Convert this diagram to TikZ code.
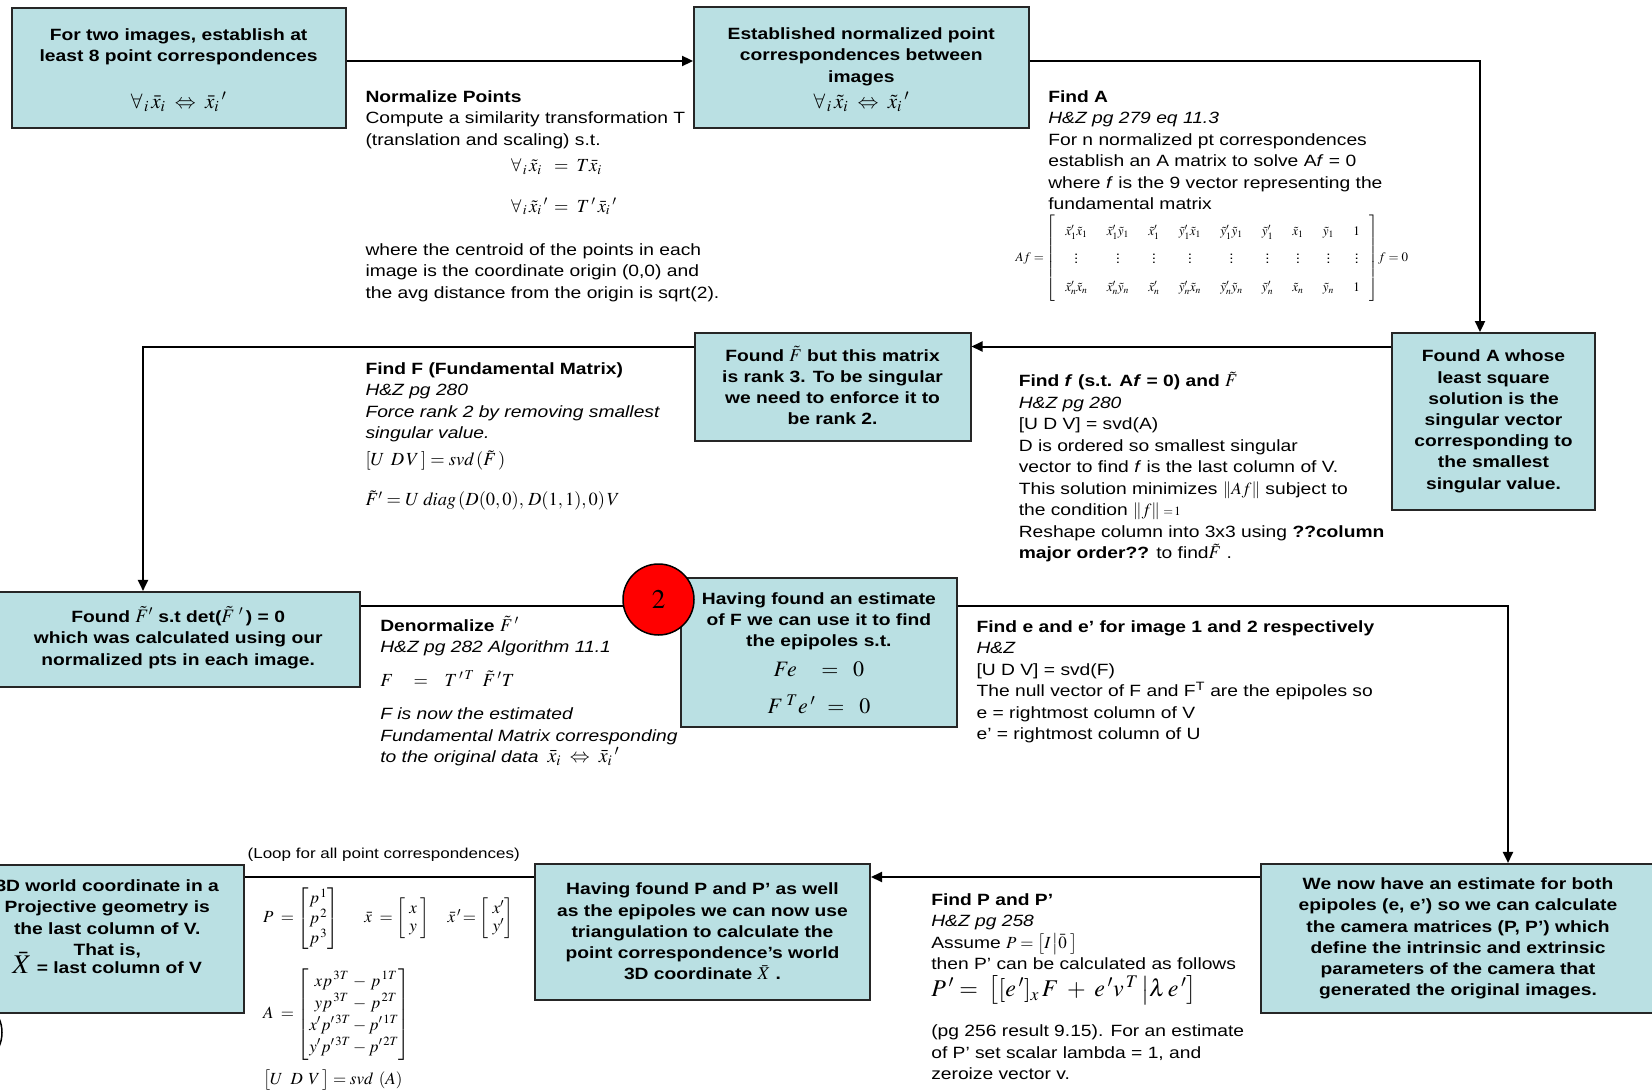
\documentclass[tikz,border=0pt]{standalone}
\usepackage{amsmath}
\usepackage{mathptmx}
\usepackage{fontspec}
\setmainfont{Liberation Sans}[FakeStretch=1.18]
\usetikzlibrary{arrows.meta}
\usetikzlibrary{positioning}
\definecolor{boxTeal}{RGB}{186,224,227}
\newcommand{\tikzNoteFont}{\fontsize{16.3}{21.5}\selectfont}
\newcommand{\tikzBoxFont}{\fontsize{16.3}{21.2}\selectfont\bfseries}
\newcommand{\tikzBigMath}[2]{{\fontsize{#1}{#1}\selectfont\smash{$#2$}}}

\begin{document}
\begin{tikzpicture}[x=1pt,y=-1pt,line width=2pt,
    >={Triangle[length=11pt,width=10pt]},
    flowBox/.style={draw=black!85,fill=boxTeal,inner sep=0pt,align=center,font=\tikzBoxFont},
    noteText/.style={anchor=north west,inner sep=0pt,align=left,font=\tikzNoteFont},
    eqText/.style={anchor=west,inner sep=0pt,font=\fontsize{18.5}{21}\selectfont}]
                        \useasboundingbox (0,0) rectangle (1652,1091);
                        % boxes of the flow
                        \node[flowBox,minimum width=334pt,minimum height=120pt] (pointPairs) at (178.6,68.5)
                            {For two images, establish at\\least 8 point correspondences\\[26pt]\tikzBigMath{21}{\forall_{\,i}\,\bar{x}_i\;\Leftrightarrow\;\bar{x}_i\,'}};
                        \node[flowBox,minimum width=334.5pt,minimum height=121pt] (normPairs) at (861.3,68)
                            {Established normalized point\\correspondences between\\images\\[5pt]\tikzBigMath{21}{\forall_{\,i}\,\tilde{x}_i\;\Leftrightarrow\;\tilde{x}_i\,'}};
                        \node[flowBox,minimum width=203pt,minimum height=176.5pt] (foundA) at (1493.5,421.3)
                            {Found A whose\\least square\\solution is the\\singular vector\\corresponding to\\the smallest\\singular value.};
                        \node[flowBox,minimum width=276pt,minimum height=108pt] (foundFt) at (832.5,387)
                            {Found \tikzBigMath{18}{\tilde{F}} but this matrix\\is rank 3. To be singular\\we need to enforce it to\\be rank 2.};
                        \node[flowBox,minimum width=364.5pt,minimum height=95.5pt] (foundFp) at (178.2,639.7)
                            {Found \tikzBigMath{19}{\tilde{F}'} s.t det(\tikzBigMath{19}{\tilde{F}\;'}\,) = 0\\which was calculated using our\\normalized pts in each image.};
                        \node[flowBox,minimum width=275.7pt,minimum height=149pt] (estimate) at (818.9,652.8)
                            {Having found an estimate\\of F we can use it to find\\the epipoles s.t.\\[9pt]
                             \tikzBigMath{22}{Fe\;\;\;\;=\;\;0}\\[15pt]
                             \tikzBigMath{22}{F^{\;T}e\,'\;\,=\;\;0}};
                        \node[flowBox,minimum width=394pt,minimum height=149.3pt] (weNow) at (1458,938.6)
                            {We now have an estimate for both\\epipoles (e, e’) so we can calculate\\the camera matrices (P, P’) which\\define the intrinsic and extrinsic\\parameters of the camera that\\generated the original images.};
                        \node[flowBox,minimum width=335pt,minimum height=136pt] (havingP) at (702.5,931.5)
                            {Having found P and P’ as well\\as the epipoles we can now use\\triangulation to calculate the\\point correspondence’s world\\3D coordinate \tikzBigMath{18}{\bar{X}} .};
                        \node[flowBox,minimum width=274.4pt,minimum height=147.6pt] (world3d) at (107.2,938.8)
                            {3D world coordinate in a\\Projective geometry is\\the last column of V.\\That is,\\[-3pt]\tikzBigMath{27}{\bar{X}} = last column of V\\[3pt]};
                        % corners of the connectors
                        \coordinate (cornerA) at (1480,61);
                        \coordinate (cornerB) at (143,346.5);
                        \coordinate (cornerC) at (1508,605.5);
                        \coordinate (rowD) at (0,877);
                        \draw[->] (pointPairs.east |- cornerA) -- (normPairs.west |- cornerA);
                        \draw[->] (normPairs.east |- cornerA) -- (cornerA) -- (foundA.north -| cornerA);
                        \draw[->] (foundA.west |- cornerB) -- (foundFt.east |- cornerB);
                        \draw[->] (foundFt.west |- cornerB) -- (cornerB) -- (foundFp.north -| cornerB);
                        \draw (foundFp.east |- cornerC) -- (estimate.west |- cornerC);
                        \draw[->] (estimate.east |- cornerC) -- (cornerC) -- (weNow.north -| cornerC);
                        \draw[->] (weNow.west |- rowD) -- (havingP.east |- rowD);
                        \draw (havingP.west |- rowD) --node[above=15pt,xshift=-6pt,inner sep=0pt,font=\fontsize{14.4}{16}\selectfont]{(Loop for all point correspondences)} (world3d.east |- rowD);
                        \node[circle,draw=black,fill=red,line width=1.5pt,minimum size=71pt,inner sep=0pt,font=\fontsize{27}{27}\selectfont] (badgeTwo) at (658.5,599.5) {$2$};
                        \draw[line width=1.5pt] (-33,1032.5) circle (35);
                        % notes beside the connectors
                        \node[noteText] (normNote) at (364.5,89.5)
                            {\textbf{Normalize Points}\\Compute a similarity transformation T\\(translation and scaling) s.t.};
                        \node[eqText] (normEqA) at (510,166.5) {$\forall_{\,i}\,\tilde{x}_i\;\;=\;T\bar{x}_i$};
                        \node[eqText] (normEqB) at (510,206.5) {$\forall_{\,i}\,\tilde{x}_i\,'\,=\;T\,'\,\bar{x}_i\,'$};
                        \node[noteText] (normNoteB) at (364.5,242.3)
                            {where the centroid of the points in each\\image is the coordinate origin (0,0) and\\the avg distance from the origin is sqrt(2).};
                        \node[noteText] (findANote) at (1047.3,89.5)
                            {\textbf{Find A}\\\textit{H\&Z pg 279 eq 11.3}\\For n normalized pt correspondences\\establish an A matrix to solve A\textit{f} = 0\\where \textit{f} is the 9 vector representing the\\fundamental matrix};
                        \node[eqText,font=\fontsize{13}{14}\selectfont] (findAEq) at (1014.6,258)
                            {\arraycolsep=9.7pt\def\arraystretch{2}$Af=\left[\begin{array}{ccccccccc}
                             \tilde{x}'_1\tilde{x}_1 & \tilde{x}'_1\tilde{y}_1 & \tilde{x}'_1 & \tilde{y}'_1\tilde{x}_1 & \tilde{y}'_1\tilde{y}_1 & \tilde{y}'_1 & \tilde{x}_1 & \tilde{y}_1 & 1\\
                             \vdots & \vdots & \vdots & \vdots & \vdots & \vdots & \vdots & \vdots & \vdots\\
                             \tilde{x}'_n\tilde{x}_n & \tilde{x}'_n\tilde{y}_n & \tilde{x}'_n & \tilde{y}'_n\tilde{x}_n & \tilde{y}'_n\tilde{y}_n & \tilde{y}'_n & \tilde{x}_n & \tilde{y}_n & 1
                             \end{array}\right]\!f=0$};
                        \node[noteText] (findFNote) at (364.5,361.5)
                            {\textbf{Find F (Fundamental Matrix)}\\\textit{H\&Z pg 280}\\\textit{Force rank 2 by removing smallest}\\\textit{singular value.}};
                        \node[eqText] (findFEqA) at (364.5,460.4) {$[U\;\,D\,V\,] = \mathit{svd}\,(\tilde{F}\,)$};
                        \node[eqText] (findFEqB) at (364.5,500.5) {$\tilde{F}' = U\;\mathit{diag}\,(D(0,0),\,D(1,1),0)\,V$};
                        \node[noteText] (findfNote) at (1017.8,374)
                            {\textbf{Find \textit{f} (s.t. A\textit{f} = 0) and} \tikzBigMath{18}{\tilde{F}}\\\textit{H\&Z pg 280}\\{[U D V]} = svd(A)\\D is ordered so smallest singular\\vector to find \textit{f} is the last column of V.\\This solution minimizes \tikzBigMath{17}{\left\|Af\right\|} subject to\\the condition \tikzBigMath{17}{\left\|f\right\|{\scriptstyle\,=\,1}}\\Reshape column into 3x3 using \textbf{??column}\\\textbf{major order??} to find\tikzBigMath{18}{\tilde{F}} .};
                        \node[noteText] (denormNote) at (379.3,618.5)
                            {\textbf{Denormalize} \tikzBigMath{18}{\tilde{F}\,'}\\\textit{H\&Z pg 282 Algorithm 11.1}};
                        \node[eqText] (denormEq) at (379.3,678.5) {$F\;\;\;\;=\;\;\;T\,'^{\,T}\;\;\tilde{F}\,'T$};
                        \node[noteText] (denormNoteB) at (379.3,707)
                            {\textit{F is now the estimated}\\\textit{Fundamental Matrix corresponding}\\\textit{to the original data}\hspace*{9pt}\tikzBigMath{20}{\bar{x}_i\;\Leftrightarrow\;\bar{x}_i\,'}};
                        \node[noteText] (findENote) at (975.6,619.5)
                            {\textbf{Find e and e’ for image 1 and 2 respectively}\\\textit{H\&Z}\\{[U D V]} = svd(F)\\The null vector of F and F\textsuperscript{T} are the epipoles so\\e = rightmost column of V\\e’ = rightmost column of U};
                        \node[eqText,font=\fontsize{17}{18}\selectfont] (loopEqP) at (262,918.7)
                            {$P\;=\begin{bmatrix}p^{\,1}\\p^{\,2}\\p^{\,3}\end{bmatrix}\hspace*{24pt}\bar{x}\;=\begin{bmatrix}\;x\;\\\;y\;\end{bmatrix}\hspace*{16pt}\bar{x}\,'\!=\begin{bmatrix}\;x'\\\;y'\end{bmatrix}$};
                        \node[eqText,font=\fontsize{17}{22}\selectfont] (loopEqA) at (262,1014.6)
                            {$A\;=\begin{bmatrix}\;xp^{\,3T}\,-\,p^{\,1T}\\\;yp^{\,3T}\,-\,p^{\,2T}\\x'p'^{\,3T}-p'^{\,1T}\\y'p'^{\,3T}-p'^{\,2T}\end{bmatrix}$};
                        \node[eqText,font=\fontsize{17}{19}\selectfont] (loopEqSvd) at (262,1080) {$\bigl[U\;\;D\;\,V\,\bigr]=\mathit{svd}\;\,(A)$};
                        \node[noteText] (findPNote) at (930.3,892.5)
                            {\textbf{Find P and P’}\\\textit{H\&Z pg 258}\\Assume \tikzBigMath{17}{P=\bigl[I\,\big|\bar{0}\;\bigr]}\\then P’ can be calculated as follows};
                        \node[eqText,font=\fontsize{24}{26}\selectfont] (findPEq) at (930.3,990.4)
                            {$P\,'=\;\bigl[[e\,']_x\,F\;+\;e\,'v^{\,T}\,\big|\lambda\,e\,'\bigr]$};
                        \node[noteText] (findPNoteB) at (930.3,1024)
                            {(pg 256 result 9.15). For an estimate\\of P’ set scalar lambda = 1, and\\zeroize vector v.};
                      \end{tikzpicture}
\end{document}
